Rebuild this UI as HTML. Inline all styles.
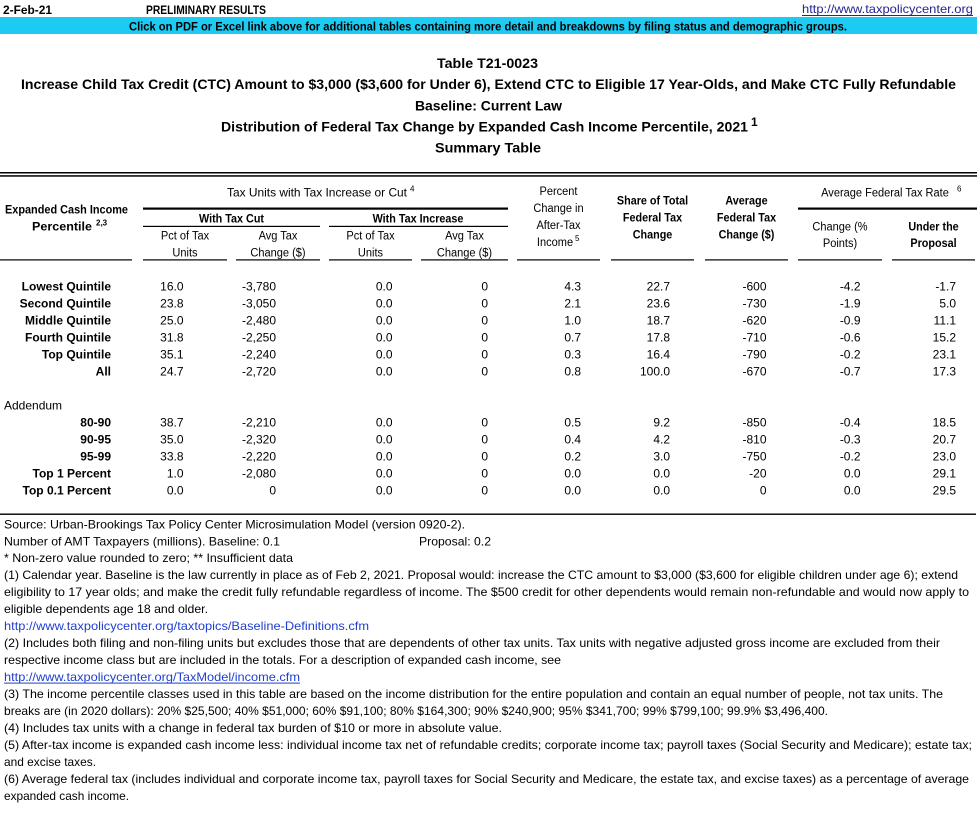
<!DOCTYPE html>
<html><head><meta charset="utf-8">
<style>
html,body{margin:0;padding:0;background:#fff;}
svg{display:block;}
text{font-family:"Liberation Sans",Arial,sans-serif;fill:#000;font-size:12px;}
.b{font-weight:bold;}
.ttl{font-weight:bold;font-size:14px;}
.lnk{fill:#1f3fd0;}
.top{fill:#25258f;}
.sup{font-size:8px;}
</style></head><body>
<svg width="977" height="821" viewBox="0 0 977 821" xmlns="http://www.w3.org/2000/svg">
<rect x="0" y="0" width="977" height="821" fill="#fff"/>
<!-- top line -->
<text x="3" y="14" class="b" font-size="11.5" textLength="49" lengthAdjust="spacingAndGlyphs">2-Feb-21</text>
<text x="146" y="14" class="b" font-size="11.5" textLength="120" lengthAdjust="spacingAndGlyphs">PRELIMINARY RESULTS</text>
<text x="802" y="13" class="top" textLength="171" lengthAdjust="spacingAndGlyphs">http://www.taxpolicycenter.org</text>
<rect x="802" y="15" width="171" height="1" fill="#25258f"/>
<!-- cyan bar -->
<rect x="0" y="17" width="977" height="17" fill="#1ccaf2"/>
<text x="129" y="30.5" class="b" textLength="718" lengthAdjust="spacingAndGlyphs">Click on PDF or Excel link above for additional tables containing more detail and breakdowns by filing status and demographic groups.</text>
<!-- titles -->
<text x="437" y="68" class="ttl" textLength="101" lengthAdjust="spacingAndGlyphs">Table T21-0023</text>
<text x="21" y="89" class="ttl" textLength="935" lengthAdjust="spacingAndGlyphs">Increase Child Tax Credit (CTC) Amount to $3,000 ($3,600 for Under 6), Extend CTC to Eligible 17 Year-Olds, and Make CTC Fully Refundable</text>
<text x="415" y="110.5" class="ttl" textLength="147" lengthAdjust="spacingAndGlyphs">Baseline: Current Law</text>
<text x="221" y="131.5" class="ttl" textLength="527" lengthAdjust="spacingAndGlyphs">Distribution of Federal Tax Change by Expanded Cash Income Percentile, 2021</text>
<text x="751" y="126" class="b" font-size="9">1</text>
<text x="435" y="152.5" class="ttl" textLength="106" lengthAdjust="spacingAndGlyphs">Summary Table</text>

<!-- table rules -->
<rect x="0" y="172" width="977" height="1.5" fill="#000"/>
<rect x="0" y="175.2" width="977" height="1.5" fill="#000"/>
<rect x="143" y="207.5" width="365" height="2.2" fill="#000"/>
<rect x="798" y="207.5" width="179" height="2.2" fill="#000"/>
<rect x="143" y="225.8" width="177" height="1.2" fill="#000"/>
<rect x="329" y="225.8" width="179" height="1.2" fill="#000"/>
<g fill="#000">
<rect x="0" y="259.3" width="132" height="1.2"/>
<rect x="143" y="259.3" width="84" height="1.2"/>
<rect x="236" y="259.3" width="84" height="1.2"/>
<rect x="329" y="259.3" width="83" height="1.2"/>
<rect x="421" y="259.3" width="87" height="1.2"/>
<rect x="517" y="259.3" width="83" height="1.2"/>
<rect x="611" y="259.3" width="83" height="1.2"/>
<rect x="705" y="259.3" width="83" height="1.2"/>
<rect x="798" y="259.3" width="84" height="1.2"/>
<rect x="892" y="259.3" width="83" height="1.2"/>
</g>
<rect x="0" y="513.5" width="976" height="1.4" fill="#000"/>

<!-- header text -->
<text x="227" y="196.5" textLength="180" lengthAdjust="spacingAndGlyphs">Tax Units with Tax Increase or Cut</text>
<text x="410" y="191.5" class="sup">4</text>
<text x="5" y="213.5" class="b" textLength="123" lengthAdjust="spacingAndGlyphs">Expanded Cash Income</text>
<text x="32" y="230.5" class="b" textLength="60" lengthAdjust="spacingAndGlyphs">Percentile</text>
<text x="96" y="225.5" class="sup b">2,3</text>
<text transform="translate(231.5 222.5) scale(.9 1)" text-anchor="middle" class="b">With Tax Cut</text>
<text transform="translate(418 222.5) scale(.9 1)" text-anchor="middle" class="b">With Tax Increase</text>

<text transform="translate(185 239.5) scale(.92 1)" text-anchor="middle">Pct of Tax</text>
<text transform="translate(185 256.5) scale(.92 1)" text-anchor="middle">Units</text>
<text transform="translate(278 239.5) scale(.92 1)" text-anchor="middle">Avg Tax</text>
<text transform="translate(278 256.5) scale(.92 1)" text-anchor="middle">Change ($)</text>
<text transform="translate(370.5 239.5) scale(.92 1)" text-anchor="middle">Pct of Tax</text>
<text transform="translate(370.5 256.5) scale(.92 1)" text-anchor="middle">Units</text>
<text transform="translate(464.5 239.5) scale(.92 1)" text-anchor="middle">Avg Tax</text>
<text transform="translate(464.5 256.5) scale(.92 1)" text-anchor="middle">Change ($)</text>

<text transform="translate(558.5 195) scale(.92 1)" text-anchor="middle">Percent</text>
<text transform="translate(558.5 212) scale(.92 1)" text-anchor="middle">Change in</text>
<text transform="translate(558.5 229) scale(.92 1)" text-anchor="middle">After-Tax</text>
<text transform="translate(555 246) scale(.92 1)" text-anchor="middle">Income</text>
<text x="575" y="241" class="sup">5</text>

<text transform="translate(652.5 204.5) scale(.9 1)" text-anchor="middle" class="b">Share of Total</text>
<text transform="translate(652.5 221.5) scale(.9 1)" text-anchor="middle" class="b">Federal Tax</text>
<text transform="translate(652.5 238.5) scale(.9 1)" text-anchor="middle" class="b">Change</text>

<text transform="translate(746.5 204.5) scale(.9 1)" text-anchor="middle" class="b">Average</text>
<text transform="translate(746.5 221.5) scale(.9 1)" text-anchor="middle" class="b">Federal Tax</text>
<text transform="translate(746.5 238.5) scale(.9 1)" text-anchor="middle" class="b">Change ($)</text>

<text transform="translate(885 196.5) scale(.92 1)" text-anchor="middle">Average Federal Tax Rate</text>
<text x="957" y="191.5" class="sup">6</text>
<text transform="translate(840 230.5) scale(.92 1)" text-anchor="middle">Change (%</text>
<text transform="translate(840 247) scale(.92 1)" text-anchor="middle">Points)</text>
<text transform="translate(933.5 230.5) scale(.9 1)" text-anchor="middle" class="b">Under the</text>
<text transform="translate(933.5 247) scale(.9 1)" text-anchor="middle" class="b">Proposal</text>

<!-- row labels -->
<g class="b" text-anchor="end">
<text x="111" y="290.5" class="b">Lowest Quintile</text>
<text x="111" y="307.5" class="b">Second Quintile</text>
<text x="111" y="324.5" class="b">Middle Quintile</text>
<text x="111" y="341.5" class="b">Fourth Quintile</text>
<text x="111" y="358.5" class="b">Top Quintile</text>
<text x="111" y="375.5" class="b">All</text>
<text x="111" y="426.5" class="b">80-90</text>
<text x="111" y="443.5" class="b">90-95</text>
<text x="111" y="460.5" class="b">95-99</text>
<text x="111" y="477.5" class="b">Top 1 Percent</text>
<text x="111" y="494.5" class="b">Top 0.1 Percent</text>
</g>
<text x="4" y="409.5">Addendum</text>

<!-- data columns -->
<g text-anchor="end">
<text x="183.5" y="290.5">16.0</text><text x="276" y="290.5">-3,780</text><text x="392.5" y="290.5">0.0</text><text x="488" y="290.5">0</text><text x="581" y="290.5">4.3</text><text x="670" y="290.5">22.7</text><text x="766.5" y="290.5">-600</text><text x="860.5" y="290.5">-4.2</text><text x="956" y="290.5">-1.7</text>
<text x="183.5" y="307.5">23.8</text><text x="276" y="307.5">-3,050</text><text x="392.5" y="307.5">0.0</text><text x="488" y="307.5">0</text><text x="581" y="307.5">2.1</text><text x="670" y="307.5">23.6</text><text x="766.5" y="307.5">-730</text><text x="860.5" y="307.5">-1.9</text><text x="956" y="307.5">5.0</text>
<text x="183.5" y="324.5">25.0</text><text x="276" y="324.5">-2,480</text><text x="392.5" y="324.5">0.0</text><text x="488" y="324.5">0</text><text x="581" y="324.5">1.0</text><text x="670" y="324.5">18.7</text><text x="766.5" y="324.5">-620</text><text x="860.5" y="324.5">-0.9</text><text x="956" y="324.5">11.1</text>
<text x="183.5" y="341.5">31.8</text><text x="276" y="341.5">-2,250</text><text x="392.5" y="341.5">0.0</text><text x="488" y="341.5">0</text><text x="581" y="341.5">0.7</text><text x="670" y="341.5">17.8</text><text x="766.5" y="341.5">-710</text><text x="860.5" y="341.5">-0.6</text><text x="956" y="341.5">15.2</text>
<text x="183.5" y="358.5">35.1</text><text x="276" y="358.5">-2,240</text><text x="392.5" y="358.5">0.0</text><text x="488" y="358.5">0</text><text x="581" y="358.5">0.3</text><text x="670" y="358.5">16.4</text><text x="766.5" y="358.5">-790</text><text x="860.5" y="358.5">-0.2</text><text x="956" y="358.5">23.1</text>
<text x="183.5" y="375.5">24.7</text><text x="276" y="375.5">-2,720</text><text x="392.5" y="375.5">0.0</text><text x="488" y="375.5">0</text><text x="581" y="375.5">0.8</text><text x="670" y="375.5">100.0</text><text x="766.5" y="375.5">-670</text><text x="860.5" y="375.5">-0.7</text><text x="956" y="375.5">17.3</text>

<text x="183.5" y="426.5">38.7</text><text x="276" y="426.5">-2,210</text><text x="392.5" y="426.5">0.0</text><text x="488" y="426.5">0</text><text x="581" y="426.5">0.5</text><text x="670" y="426.5">9.2</text><text x="766.5" y="426.5">-850</text><text x="860.5" y="426.5">-0.4</text><text x="956" y="426.5">18.5</text>
<text x="183.5" y="443.5">35.0</text><text x="276" y="443.5">-2,320</text><text x="392.5" y="443.5">0.0</text><text x="488" y="443.5">0</text><text x="581" y="443.5">0.4</text><text x="670" y="443.5">4.2</text><text x="766.5" y="443.5">-810</text><text x="860.5" y="443.5">-0.3</text><text x="956" y="443.5">20.7</text>
<text x="183.5" y="460.5">33.8</text><text x="276" y="460.5">-2,220</text><text x="392.5" y="460.5">0.0</text><text x="488" y="460.5">0</text><text x="581" y="460.5">0.2</text><text x="670" y="460.5">3.0</text><text x="766.5" y="460.5">-750</text><text x="860.5" y="460.5">-0.2</text><text x="956" y="460.5">23.0</text>
<text x="183.5" y="477.5">1.0</text><text x="276" y="477.5">-2,080</text><text x="392.5" y="477.5">0.0</text><text x="488" y="477.5">0</text><text x="581" y="477.5">0.0</text><text x="670" y="477.5">0.0</text><text x="766.5" y="477.5">-20</text><text x="860.5" y="477.5">0.0</text><text x="956" y="477.5">29.1</text>
<text x="183.5" y="494.5">0.0</text><text x="276" y="494.5">0</text><text x="392.5" y="494.5">0.0</text><text x="488" y="494.5">0</text><text x="581" y="494.5">0.0</text><text x="670" y="494.5">0.0</text><text x="766.5" y="494.5">0</text><text x="860.5" y="494.5">0.0</text><text x="956" y="494.5">29.5</text>
</g>

<!-- footnotes -->
<g>
<text x="4" y="528.3" textLength="461" lengthAdjust="spacingAndGlyphs">Source: Urban-Brookings Tax Policy Center Microsimulation Model (version 0920-2).</text>
<text x="4" y="545.3" textLength="276" lengthAdjust="spacingAndGlyphs">Number of AMT Taxpayers (millions).  Baseline: 0.1</text>
<text x="419" y="545.3" textLength="72" lengthAdjust="spacingAndGlyphs">Proposal: 0.2</text>
<text x="4" y="562.2" textLength="289" lengthAdjust="spacingAndGlyphs">* Non-zero value rounded to zero; ** Insufficient data</text>
<text x="4" y="579.2" textLength="954" lengthAdjust="spacingAndGlyphs">(1) Calendar year. Baseline is the law currently in place as of Feb 2, 2021. Proposal would: increase the CTC amount to $3,000 ($3,600 for eligible children under age 6); extend</text>
<text x="4" y="596.2" textLength="965" lengthAdjust="spacingAndGlyphs">eligibility to 17 year olds; and make the credit fully refundable regardless of income. The $500 credit for other dependents would remain non-refundable and would now apply to</text>
<text x="4" y="613.1" textLength="204" lengthAdjust="spacingAndGlyphs">eligible dependents age 18 and older.</text>
<text x="4" y="630.1" class="lnk" textLength="365" lengthAdjust="spacingAndGlyphs">http://www.taxpolicycenter.org/taxtopics/Baseline-Definitions.cfm</text>
<text x="4" y="647.1" textLength="936" lengthAdjust="spacingAndGlyphs">(2) Includes both filing and non-filing units but excludes those that are dependents of other tax units. Tax units with negative adjusted gross income are excluded from their</text>
<text x="4" y="664.1" textLength="557" lengthAdjust="spacingAndGlyphs">respective income class but are included in the totals. For a description of expanded cash income, see</text>
<text x="4" y="681" class="lnk" textLength="296" lengthAdjust="spacingAndGlyphs">http://www.taxpolicycenter.org/TaxModel/income.cfm</text>
<rect x="4" y="682.6" width="296" height="1" fill="#1f3fd0"/>
<text x="4" y="698" textLength="939" lengthAdjust="spacingAndGlyphs">(3) The income percentile classes used in this table are based on the income distribution for the entire population and contain an equal number of people, not tax units. The</text>
<text x="4" y="715" textLength="824" lengthAdjust="spacingAndGlyphs">breaks are (in 2020 dollars): 20% $25,500; 40% $51,000; 60% $91,100; 80% $164,300; 90% $240,900; 95% $341,700; 99% $799,100; 99.9% $3,496,400.</text>
<text x="4" y="731.9" textLength="498" lengthAdjust="spacingAndGlyphs">(4) Includes tax units with a change in federal tax burden of $10 or more in absolute value.</text>
<text x="4" y="748.9" textLength="968" lengthAdjust="spacingAndGlyphs">(5) After-tax income is expanded cash income less: individual income tax net of refundable credits; corporate income tax; payroll taxes (Social Security and Medicare); estate tax;</text>
<text x="4" y="765.9" textLength="92" lengthAdjust="spacingAndGlyphs">and excise taxes.</text>
<text x="4" y="782.8" textLength="965" lengthAdjust="spacingAndGlyphs">(6) Average federal tax (includes individual and corporate income tax, payroll taxes for Social Security and Medicare, the estate tax, and excise taxes) as a percentage of average</text>
<text x="4" y="799.8" textLength="125" lengthAdjust="spacingAndGlyphs">expanded cash income.</text>
</g>
</svg>
</body></html>
